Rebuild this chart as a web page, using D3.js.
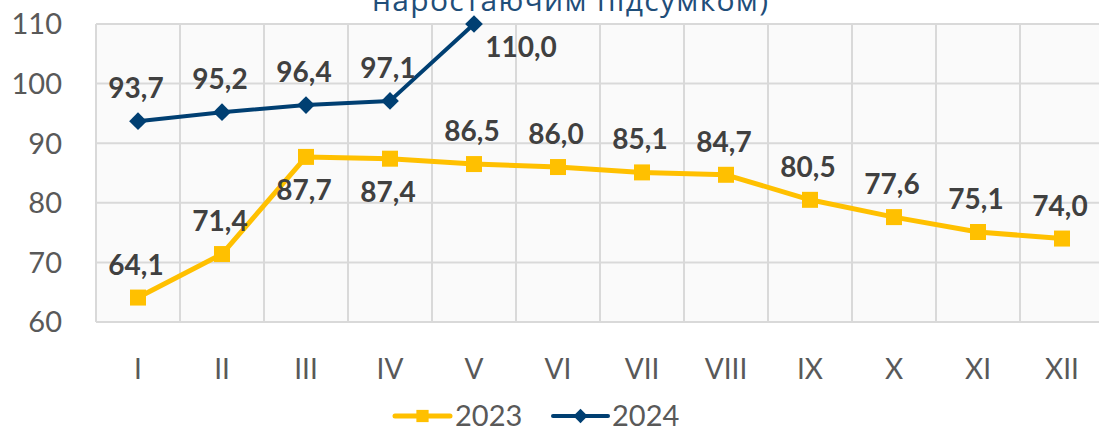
<!DOCTYPE html>
<html>
<head>
<meta charset="utf-8">
<script src="https://cdn.jsdelivr.net/npm/d3@7"></script>
<style>
  body { margin: 0; background: #fff; }
  svg { display: block; font-family: Lato, "Open Sans", sans-serif; }
</style>
</head>
<body>
<div id="chart"></div>
<script>
// data
const months = ["I", "II", "III", "IV", "V", "VI", "VII", "VIII", "IX", "X", "XI", "XII"];
const values2023 = [64.1, 71.4, 87.7, 87.4, 86.5, 86.0, 85.1, 84.7, 80.5, 77.6, 75.1, 74.0];
const values2024 = [93.7, 95.2, 96.4, 97.1, 110.0];
const labelSide2023 = ["up", "up", "down", "down", "up", "up", "up", "up", "up", "up", "up", "up"];
const labelSide2024 = ["up", "up", "up", "up", "right"];
const yTicks = [60, 70, 80, 90, 100, 110];
const titleTail = "наростаючим підсумком)";

const width = 1099, height = 429;
const margin = {top: 24, right: -5, bottom: 107, left: 96};

const svg = d3.select("#chart").append("svg")
    .attr("width", width)
    .attr("height", height);

const x = d3.scaleBand()
    .domain(months)
    .range([margin.left, width - margin.right]);

const y = d3.scaleLinear()
    .domain([60, 110])
    .range([height - margin.bottom, margin.top]);

// plot background
svg.append("rect")
    .attr("x", margin.left)
    .attr("y", margin.top)
    .attr("width", width - margin.right - margin.left)
    .attr("height", y(60) - y(110))
    .attr("fill", "#fafafa");

// horizontal grid
svg.append("g")
    .selectAll("line")
    .data(yTicks)
    .join("line")
    .attr("x1", margin.left)
    .attr("x2", width - margin.right)
    .attr("y1", d => y(d))
    .attr("y2", d => y(d))
    .attr("stroke", "#d9d9d9")
    .attr("stroke-width", 2);

// vertical grid (category boundaries)
svg.append("g")
    .selectAll("line")
    .data(months)
    .join("line")
    .attr("x1", d => x(d))
    .attr("x2", d => x(d))
    .attr("y1", y(110))
    .attr("y2", y(60))
    .attr("stroke", "#d9d9d9")
    .attr("stroke-width", 2);

// y axis labels
svg.append("g")
    .selectAll("text")
    .data(yTicks)
    .join("text")
    .attr("x", 62)
    .attr("y", d => y(d))
    .attr("dy", "0.36em")
    .attr("text-anchor", "end")
    .attr("fill", "#595959")
    .style("font-size", "29px")
    .text(d => d);

// x axis labels
svg.append("g")
    .selectAll("text")
    .data(months)
    .join("text")
    .attr("x", d => x(d) + x.bandwidth() / 2)
    .attr("y", 379)
    .attr("text-anchor", "middle")
    .attr("fill", "#595959")
    .style("font-size", "28px")
    .text(d => d);

// title (only the tail of it shows)
svg.append("text")
    .attr("x", 570)
    .attr("y", 11)
    .attr("text-anchor", "middle")
    .attr("fill", "#1f4e79")
    .attr("textLength", 396)
    .style("font-family", "'Open Sans', sans-serif")
    .style("font-size", "30px")
    .text(titleTail);

const cx = i => x(months[i]) + x.bandwidth() / 2;

const line = d3.line()
    .x((d, i) => cx(i))
    .y(d => y(d));

const series = [
    {name: "2023", values: values2023, sides: labelSide2023, color: "#ffc000", width: 5, symbol: d3.symbolSquare, size: 256, legendSize: 150},
    {name: "2024", values: values2024, sides: labelSide2024, color: "#003f72", width: 4, symbol: d3.symbolDiamond2, size: 200, legendSize: 130}
];

const fmt = v => v.toFixed(1).replace(".", ",");

series.forEach(s => {
    svg.append("path")
        .datum(s.values)
        .attr("d", line)
        .attr("fill", "none")
        .attr("stroke", s.color)
        .attr("stroke-width", s.width)
        .attr("stroke-linejoin", "round");

    svg.append("g")
        .selectAll("path")
        .data(s.values)
        .join("path")
        .attr("transform", (d, i) => `translate(${cx(i)},${y(d)})`)
        .attr("d", d3.symbol().type(s.symbol).size(s.size))
        .attr("fill", s.color);

    svg.append("g")
        .selectAll("text")
        .data(s.values)
        .join("text")
        .attr("x", (d, i) => s.sides[i] === "right" ? cx(i) + 47 : cx(i) - 2)
        .attr("y", (d, i) => {
            const side = s.sides[i];
            if (side === "down") return y(d) + 43;
            if (side === "right") return y(d) + 33;
            return y(d) - 23;
        })
        .attr("text-anchor", "middle")
        .attr("fill", "#404040")
        .style("font-size", "28px")
        .style("font-weight", "bold")
        .text(d => fmt(d));
});

// legend
const legend = svg.append("g");
const legendItems = [
    {s: series[0], x0: 395, tx: 455},
    {s: series[1], x0: 553, tx: 612}
];
legendItems.forEach(it => {
    legend.append("line")
        .attr("x1", it.x0)
        .attr("x2", it.x0 + 55)
        .attr("y1", 416)
        .attr("y2", 416)
        .attr("stroke", it.s.color)
        .attr("stroke-width", it.s.width)
        .attr("stroke-linecap", "round");
    legend.append("path")
        .attr("transform", `translate(${it.x0 + 27.5},416)`)
        .attr("d", d3.symbol().type(it.s.symbol).size(it.s.legendSize))
        .attr("fill", it.s.color);
    legend.append("text")
        .attr("x", it.tx)
        .attr("y", 416)
        .attr("dy", "0.36em")
        .attr("fill", "#595959")
        .style("font-size", "29px")
        .text(it.s.name);
});
</script>
</body>
</html>
